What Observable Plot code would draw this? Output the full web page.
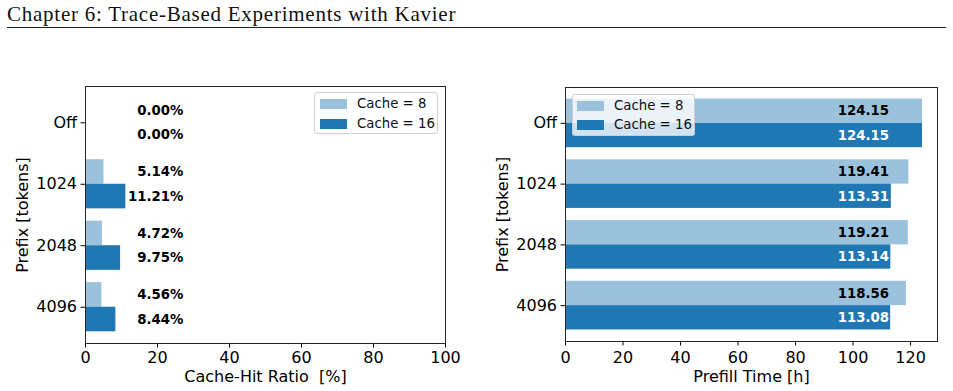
<!DOCTYPE html>
<html>
<head>
<meta charset="utf-8">
<script src="https://cdn.jsdelivr.net/npm/d3@7"></script>
<script src="https://cdn.jsdelivr.net/npm/@observablehq/plot@0.6"></script>
<style>
  html, body { margin: 0; padding: 0; background: #fff; }
  #page { position: relative; width: 953px; height: 391px; overflow: hidden; font-family: "DejaVu Sans", sans-serif; }
  #header { position: absolute; left: 7px; top: 3px; font-family: "Liberation Serif", serif; font-size: 21px; letter-spacing: 0.75px; line-height: 22px; color: #111; white-space: nowrap; }
  #rule { position: absolute; left: 7px; width: 939px; top: 27px; height: 0; border-top: 1px solid #222; }
  .plot { position: absolute; top: 70px; }
  .legend { position: absolute; box-sizing: border-box; background: rgba(255,255,255,0.8); border: 1px solid rgba(204,204,204,0.9); border-radius: 3px; font-size: 13.3px; color: #111; }
  .legend .row { position: absolute; left: 0; height: 14px; line-height: 14px; white-space: nowrap; }
  .legend .sw { position: absolute; top: 2px; width: 27px; height: 10px; }
  .legend .lb { position: absolute; top: 0; }
</style>
</head>
<body>
<div id="page">
  <div id="header">Chapter 6: Trace-Based Experiments with Kavier</div>
  <div id="rule"></div>
</div>
<script>
// Prefix lengths (rows, top to bottom)
const prefixes = ["Off", "1024", "2048", "4096"];

// Cache-hit ratio [%]
const hitCache8 = [0.00, 5.14, 4.72, 4.56];
const hitCache16 = [0.00, 11.21, 9.75, 8.44];

// Prefill time [h]
const prefillCache8 = [124.15, 119.41, 119.21, 118.56];
const prefillCache16 = [124.15, 113.31, 113.14, 113.08];

// Series and axis ticks
const seriesNames = ["Cache = 8", "Cache = 16"];
const seriesColors = ["#9bc2dd", "#1f77b4"];
const hitTicks = [0, 20, 40, 60, 80, 100];
const prefillTicks = [0, 20, 40, 60, 80, 100, 120];

const half = 0.4;                                   // height of one bar in row units
const yPad = half + 0.05 * (prefixes.length - 1 + 2 * half);

function rows(values) {
  return values.map((v, i) => ({i, v}));
}

function chart({a8, a16, xDomain, xTicks, xLabel, labelX, fmt, fills, left, width, height, margin, yLabelDx, xLabelDy, xTickPadding}) {
  const s8 = rows(a8), s16 = rows(a16);
  const svg = Plot.plot({
    width, height,
    marginLeft: margin[0], marginRight: margin[1], marginTop: margin[2], marginBottom: margin[3],
    style: {fontFamily: "DejaVu Sans, sans-serif", fontSize: "16px", color: "#000", background: "transparent", overflow: "visible"},
    x: {domain: xDomain},
    y: {domain: [prefixes.length - 1 + yPad, -yPad]},
    marks: [
      Plot.rect(s8, {x1: 0, x2: "v", y1: d => d.i - half, y2: d => d.i, fill: seriesColors[0]}),
      Plot.rect(s16, {x1: 0, x2: "v", y1: d => d.i, y2: d => d.i + half, fill: seriesColors[1]}),
      Plot.text(s8, {x: labelX, y: d => d.i - half / 2, text: d => fmt(d.v), textAnchor: "end", fontWeight: "bold", fontSize: 13.3, fill: fills[0]}),
      Plot.text(s16, {x: labelX, y: d => d.i + half / 2, text: d => fmt(d.v), textAnchor: "end", fontWeight: "bold", fontSize: 13.3, fill: fills[1]}),
      Plot.frame({stroke: "#262626"}),
      Plot.axisX({ticks: xTicks, tickSize: 4.5, tickPadding: xTickPadding, fontSize: 16, label: null}),
      Plot.axisY({ticks: prefixes.map((_, i) => i), tickFormat: i => prefixes[i], tickSize: 4.5, tickPadding: 4, fontSize: 16, label: null}),
      Plot.text([xLabel], {frameAnchor: "bottom", textAnchor: "middle", dy: xLabelDy, lineAnchor: "bottom", fontSize: 16, text: d => d}),
      Plot.text(["Prefix [tokens]"], {frameAnchor: "left", textAnchor: "middle", dx: yLabelDx, rotate: -90, fontSize: 16, text: d => d})
    ]
  });
  svg.classList.add("plot");
  svg.style.left = left + "px";
  document.getElementById("page").appendChild(svg);
}

function legend({left, top, width, height, rows: rowTops, swLeft, lbLeft}) {
  const box = document.createElement("div");
  box.className = "legend";
  Object.assign(box.style, {left: left + "px", top: top + "px", width: width + "px", height: height + "px"});
  seriesNames.forEach((name, k) => {
    const row = document.createElement("div");
    row.className = "row";
    row.style.top = rowTops[k] + "px";
    const sw = document.createElement("div");
    sw.className = "sw";
    sw.style.left = swLeft + "px";
    sw.style.background = seriesColors[k];
    const lb = document.createElement("div");
    lb.className = "lb";
    lb.style.left = lbLeft + "px";
    lb.textContent = name;
    row.append(sw, lb);
    box.appendChild(row);
  });
  document.getElementById("page").appendChild(box);
}

// Left: cache-hit ratio
chart({
  a8: hitCache8, a16: hitCache16,
  xDomain: [0, 100], xTicks: hitTicks,
  xLabel: "Cache-Hit Ratio\u00a0 [%]",
  labelX: 27.2, fmt: v => v.toFixed(2) + "%", fills: ["#000", "#000"],
  left: 0, width: 476, height: 321, margin: [85, 31, 16, 48], yLabelDx: -63, xLabelDy: 38, xTickPadding: 3.5
});

// Right: prefill time
chart({
  a8: prefillCache8, a16: prefillCache16,
  xDomain: [0, d3.max(prefillCache8.concat(prefillCache16)) * 1.042], xTicks: prefillTicks,
  xLabel: "Prefill Time [h]",
  labelX: 112.5, fmt: v => v.toFixed(2), fills: ["#000", "#fff"],
  left: 476, width: 477, height: 321, margin: [89, 16, 17, 50], yLabelDx: -63, xLabelDy: 40.5, xTickPadding: 6
});

legend({left: 314, top: 92, width: 124, height: 42, rows: [4, 24], swLeft: 5, lbLeft: 42});
legend({left: 572, top: 94, width: 123, height: 42, rows: [4, 23], swLeft: 4, lbLeft: 41});
</script>
</body>
</html>
